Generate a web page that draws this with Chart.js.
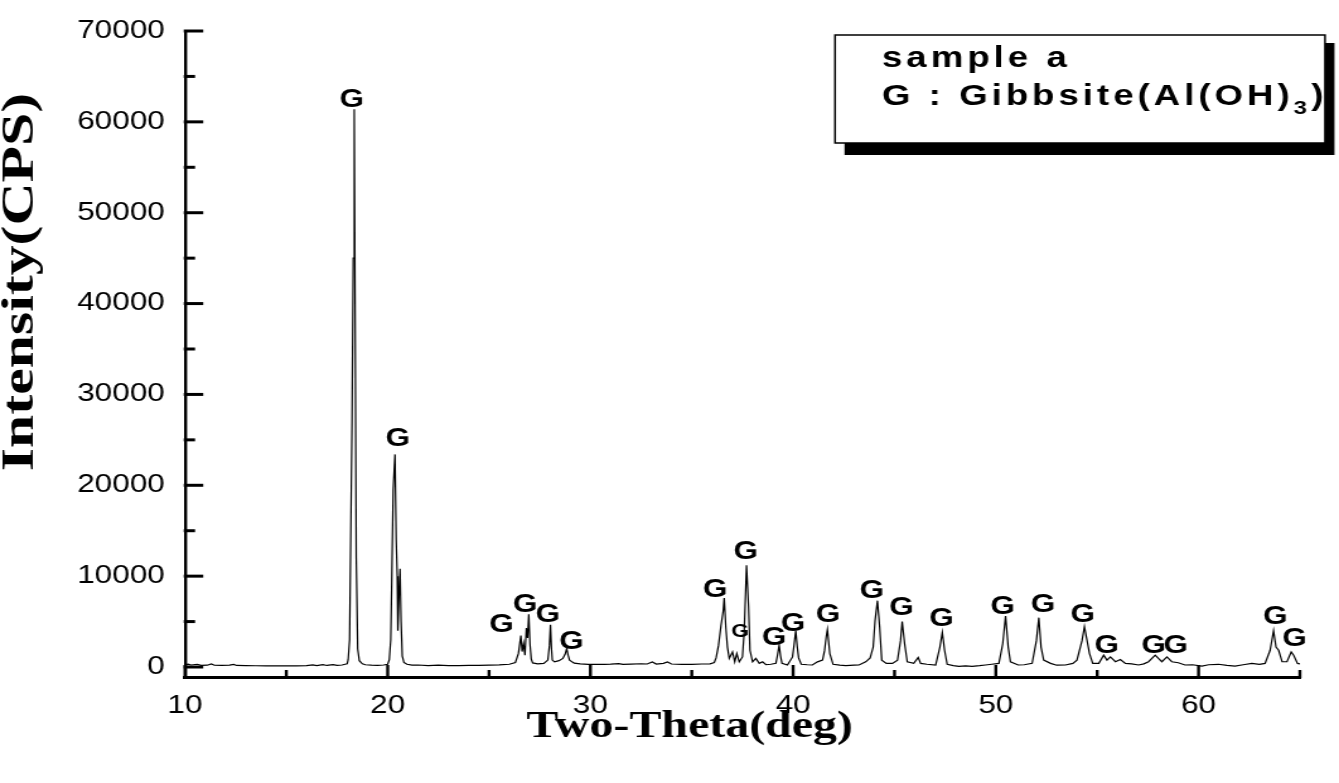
<!DOCTYPE html>
<html>
<head>
<meta charset="utf-8">
<script src="https://cdn.jsdelivr.net/npm/chart.js@4.4.1/dist/chart.umd.min.js"></script>
<style>
  html, body { margin: 0; padding: 0; background: #fff; overflow: hidden; }
  #xrd { display: block; }
</style>
</head>
<body>
<!-- the source figure is stretched sideways, so the canvas is drawn narrow and shown wide -->
<canvas id="xrd" width="1062" height="783" style="width:1339px;height:783px"></canvas>
<script>
// 2-theta (deg) and intensity (CPS)
const twoTheta = [
  10.00, 10.15, 10.30, 10.60, 10.80, 11.10, 11.30, 11.45, 11.80, 12.20, 12.40, 12.55,
  13.00, 13.50, 14.00, 14.50, 15.00, 15.50, 16.00, 16.30, 16.50, 16.80, 17.00, 17.30,
  17.50, 17.75, 17.90, 18.00, 18.05, 18.12, 18.17, 18.24, 18.30, 18.35, 18.39, 18.45,
  18.52, 18.60, 18.75, 18.90, 19.20, 19.50, 19.80, 20.00, 20.08, 20.15, 20.20, 20.27,
  20.36, 20.42, 20.47, 20.50, 20.56, 20.61, 20.66, 20.72, 20.80, 20.95, 21.20, 21.50,
  22.00, 22.50, 23.00, 23.50, 24.00, 24.50, 25.00, 25.50, 26.00, 26.30, 26.45, 26.57,
  26.63, 26.70, 26.77, 26.84, 26.90, 26.96, 27.02, 27.08, 27.15, 27.40, 27.70, 27.90,
  27.98, 28.03, 28.08, 28.12, 28.23, 28.45, 28.64, 28.75, 28.83, 28.90, 28.97, 29.20,
  29.50, 29.90, 30.30, 30.70, 31.00, 31.40, 31.60, 32.00, 32.50, 32.80, 33.05, 33.25,
  33.60, 33.80, 34.00, 34.50, 35.00, 35.50, 35.90, 36.11, 36.20, 36.32, 36.44, 36.55,
  36.60, 36.68, 36.76, 36.85, 37.01, 37.12, 37.22, 37.34, 37.50, 37.59, 37.70, 37.80,
  37.87, 38.00, 38.16, 38.33, 38.49, 38.66, 38.90, 39.15, 39.22, 39.31, 39.38, 39.45,
  39.72, 39.97, 40.05, 40.13, 40.20, 40.27, 40.40, 40.70, 40.95, 41.20, 41.45, 41.55,
  41.63, 41.69, 41.75, 41.81, 41.97, 42.30, 42.60, 43.00, 43.25, 43.58, 43.80, 43.95,
  44.04, 44.16, 44.27, 44.37, 44.60, 44.90, 45.15, 45.30, 45.38, 45.50, 45.63, 45.95,
  46.17, 46.29, 46.60, 47.03, 47.24, 47.36, 47.47, 47.60, 47.90, 48.18, 48.50, 48.83,
  49.20, 49.49, 49.80, 50.15, 50.34, 50.48, 50.61, 50.72, 51.10, 51.40, 51.79, 52.00,
  52.12, 52.23, 52.36, 52.70, 53.00, 53.43, 53.80, 54.00, 54.25, 54.37, 54.47, 54.62,
  54.78, 55.08, 55.32, 55.48, 55.65, 55.90, 56.14, 56.39, 56.70, 57.04, 57.30, 57.53,
  57.86, 58.02, 58.19, 58.44, 58.68, 59.00, 59.33, 59.70, 60.16, 60.50, 60.98, 61.40,
  61.80, 62.20, 62.63, 63.00, 63.28, 63.53, 63.70, 63.82, 63.95, 64.12, 64.36, 64.57,
  64.69, 64.88, 65.00
];
const intensity = [
  250, 320, 220, 300, 180, 200, 330, 190, 170, 200, 290, 170,
  150, 140, 130, 120, 120, 130, 150, 240, 160, 250, 170, 260,
  180, 220, 300, 350, 800, 3000, 13000, 27000, 45000, 61400, 41000, 12000,
  2000, 700, 350, 250, 200, 180, 220, 300, 800, 3000, 9400, 19500,
  23400, 14000, 10000, 4000, 8000, 10800, 5000, 1200, 500, 300, 200, 220,
  150, 200, 160, 150, 180, 170, 200, 230, 300, 500, 1500, 3460,
  1700, 2600, 1300, 4300, 3200, 5800, 2500, 900, 450, 350, 400, 760,
  2380, 4640, 2000, 760, 570, 700, 940, 1400, 2020, 1300, 760, 430,
  350, 300, 280, 300, 320, 380, 300, 320, 360, 330, 550, 320,
  400, 560, 330, 300, 300, 330, 350, 500, 1000, 2380, 4540, 6160,
  7600, 4350, 2190, 940, 1650, 570, 1480, 570, 1110, 4000, 11200, 6700,
  1840, 570, 940, 400, 570, 250, 300, 400, 1200, 2380, 1200, 400,
  220, 1110, 2500, 4000, 2300, 1000, 300, 250, 220, 570, 760, 1800,
  3300, 4100, 2800, 1480, 300, 200, 150, 200, 220, 570, 1000, 2200,
  5080, 7300, 4350, 760, 400, 400, 760, 2900, 5000, 2560, 570, 400,
  1050, 400, 300, 220, 2190, 3810, 1840, 300, 150, 80, 120, 80,
  150, 220, 300, 400, 2560, 5620, 2190, 570, 220, 250, 400, 2900,
  5430, 2190, 760, 400, 200, 220, 400, 760, 2900, 4430, 3270, 1480,
  400, 400, 1300, 760, 1110, 580, 830, 400, 350, 220, 350, 580,
  1300, 940, 580, 1110, 580, 470, 220, 250, 100, 250, 300, 180,
  100, 250, 400, 300, 400, 1840, 4000, 2190, 1840, 580, 580, 1650,
  1300, 400, 350
];

// "G" peak markers: where each letter sits (2-theta, intensity)
const markX = [18.23, 20.49, 25.62, 26.78, 27.90, 29.06, 36.15, 37.39, 37.67, 39.06, 40.00, 41.72,
               43.89, 45.34, 47.32, 50.34, 52.32, 54.29, 55.47, 57.78, 58.87, 63.79, 64.73];
const markY = [62640, 25270, 4860, 7020, 5940, 3020, 8670, 4000, 12900, 3460, 4970, 5940,
               8640, 6700, 5450, 6800, 7020, 5940, 2480, 2480, 2480, 5720, 3350];
const markSmall = [false, false, false, false, false, false, false, true, false, false, false, false,
                   false, false, false, false, false, false, false, false, false, false, false];

// axis ticks
const xTicks = [10, 15, 20, 25, 30, 35, 40, 45, 50, 55, 60, 65];
const xLabelled = [10, 20, 30, 40, 50, 60];
const yTicks = [0, 5000, 10000, 15000, 20000, 25000, 30000, 35000, 40000, 45000, 50000,
                55000, 60000, 65000, 70000];
const yLabelled = [0, 10000, 20000, 30000, 40000, 50000, 60000, 70000];
const xMin = 10, xMax = 65;
const yMin = -1100, yMax = 70000;

const points = twoTheta.map((t, i) => ({ x: t, y: intensity[i] }));

const sans = "'Liberation Sans', Arial, sans-serif";
const serif = "'Liberation Serif', 'Times New Roman', serif";

const decor = {
  id: 'decor',
  afterDraw(chart) {
    const { ctx, chartArea: a, scales: { x, y } } = chart;
    ctx.save();
    ctx.strokeStyle = '#000';
    ctx.fillStyle = '#000';

    // inward tick marks
    ctx.lineWidth = 2.4;
    xTicks.forEach(v => {
      const px = x.getPixelForValue(v);
      const len = xLabelled.includes(v) ? 12 : 7;
      ctx.beginPath();
      ctx.moveTo(px, a.bottom + 1);
      ctx.lineTo(px, a.bottom - len);
      ctx.stroke();
    });
    ctx.lineWidth = 3;
    yTicks.forEach(v => {
      const py = y.getPixelForValue(v);
      const len = yLabelled.includes(v) ? 14.5 : 8;
      ctx.beginPath();
      ctx.moveTo(a.left - 1, py);
      ctx.lineTo(a.left + len, py);
      ctx.stroke();
    });

    // peak letters
    ctx.textAlign = 'center';
    ctx.textBaseline = 'alphabetic';
    markX.forEach((mx, i) => {
      const size = markSmall[i] ? 18 : 25;
      ctx.font = `bold ${size}px ${sans}`;
      ctx.fillText('G', x.getPixelForValue(mx), y.getPixelForValue(markY[i]) + size * 0.36);
    });

    // axis titles
    ctx.font = `bold 38px ${serif}`;
    ctx.textAlign = 'center';
    ctx.fillText('Two-Theta(deg)', 547, 737);

    ctx.save();
    ctx.font = `bold 36px ${serif}`;
    ctx.translate(25.5, 282);
    ctx.rotate(-Math.PI / 2);
    ctx.scale(1.66, 1);
    ctx.fillText('Intensity(CPS)', 0, 0);
    ctx.restore();

    // legend box with drop shadow
    const bx = 662.3, by = 35, bw = 388.6, bh = 108;
    ctx.fillRect(bx + 7.5, by + 8, bw, bh + 4);
    ctx.fillStyle = '#fff';
    ctx.fillRect(bx, by, bw, bh);
    ctx.lineWidth = 1.5;
    ctx.strokeRect(bx, by, bw, bh);

    ctx.fillStyle = '#000';
    ctx.textAlign = 'left';
    ctx.font = `bold 29px ${sans}`;
    if ('letterSpacing' in ctx) ctx.letterSpacing = '3.2px';
    const tx = 699.5;
    ctx.fillText('sample a', tx, 67);
    let cx = tx;
    const part1 = 'G : Gibbsite(Al(OH)';
    ctx.fillText(part1, cx, 105);
    cx += ctx.measureText(part1).width;
    ctx.font = `bold 19px ${sans}`;
    ctx.fillText('3', cx, 114);
    cx += ctx.measureText('3').width;
    ctx.font = `bold 29px ${sans}`;
    ctx.fillText(')', cx, 105);
    ctx.restore();
  }
};

new Chart(document.getElementById('xrd'), {
  type: 'line',
  data: {
    datasets: [{
      data: points,
      borderColor: '#000',
      borderWidth: 1.2,
      pointRadius: 0,
      tension: 0,
      fill: false
    }]
  },
  options: {
    responsive: false,
    animation: false,
    events: [],
    layout: { padding: { left: 0, right: 31, top: 18, bottom: 0 } },
    plugins: {
      legend: { display: false },
      tooltip: { enabled: false }
    },
    scales: {
      x: {
        type: 'linear',
        min: xMin,
        max: xMax,
        grid: { display: false, drawTicks: false },
        border: { display: true, color: '#000', width: 3 },
        afterBuildTicks: s => { s.ticks = xTicks.map(v => ({ value: v })); },
        ticks: {
          autoSkip: false,
          maxRotation: 0,
          padding: 14,
          color: '#000',
          font: { family: sans, size: 25 },
          callback: v => xLabelled.includes(v) ? String(v) : ''
        },
        afterFit: s => { s.height = 106; }
      },
      y: {
        min: yMin,
        max: yMax,
        grid: { display: false, drawTicks: false },
        border: { display: true, color: '#000', width: 2.4 },
        afterBuildTicks: s => { s.ticks = yTicks.map(v => ({ value: v })); },
        ticks: {
          autoSkip: false,
          padding: 16,
          color: '#000',
          font: { family: sans, size: 25 },
          callback: v => yLabelled.includes(v) ? String(v) : ''
        },
        afterFit: s => { s.width = 146.7; }
      }
    }
  },
  plugins: [decor]
});
</script>
</body>
</html>
